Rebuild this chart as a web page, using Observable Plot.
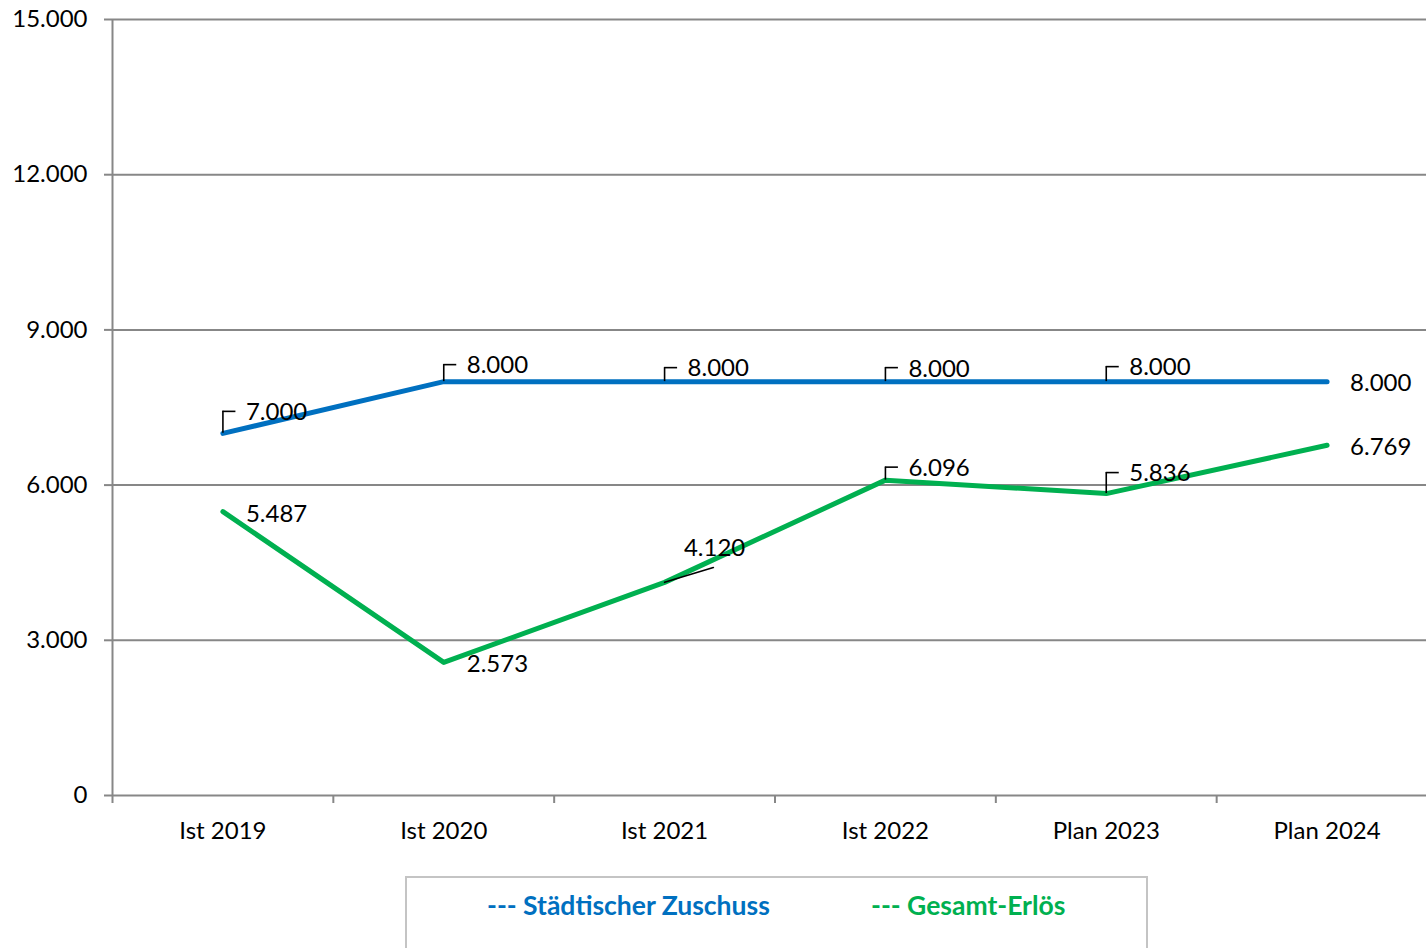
<!DOCTYPE html>
<html>
<head>
<meta charset="utf-8">
<script src="https://cdn.jsdelivr.net/npm/d3@7"></script>
<script src="https://cdn.jsdelivr.net/npm/@observablehq/plot@0.6"></script>
<style>
  html, body { margin: 0; padding: 0; background: #fff; overflow: hidden; }
  #wrap { position: relative; width: 1426px; height: 948px; overflow: hidden; background: #fff; }
  #chart svg { max-width: none !important; }
  #legend {
    position: absolute; left: 405px; top: 876px; width: 743px; height: 90px;
    border: 2px solid #c4c4c4; box-sizing: border-box; background: #fff;
    font-family: Lato, "Open Sans", sans-serif; font-weight: 700; font-size: 26.5px;
  }
  #legend span { position: absolute; top: 11px; white-space: nowrap; }
</style>
</head>
<body>
<div id="wrap">
  <div id="chart"></div>
  <div id="legend"></div>
</div>
<script>
// ---- data ----
const categories = ["Ist 2019", "Ist 2020", "Ist 2021", "Ist 2022", "Plan 2023", "Plan 2024"];
const seriesNames = ["--- Städtischer Zuschuss", "--- Gesamt-Erlös"];
const zuschuss = [7000, 8000, 8000, 8000, 8000, 8000];
const erloes = [5487, 2573, 4120, 6096, 5836, 6769];
const yTicks = [0, 3000, 6000, 9000, 12000, 15000];

// ---- layout / style (not data) ----
const colors = ["#0070C0", "#00B050"];
// label placement per point: kind, leader rise (px), text dy (px)
const zuschussLabels = [
  {kind: "leader", rise: 22, dy: -21},
  {kind: "leader", rise: 17, dy: -16},
  {kind: "leader", rise: 14, dy: -13},
  {kind: "leader", rise: 14, dy: -12},
  {kind: "leader", rise: 15, dy: -14},
  {kind: "right", dy: 2}
];
const erloesLabels = [
  {kind: "right", dy: 3},
  {kind: "right", dy: 2},
  {kind: "slant", dy: -34},
  {kind: "leader", rise: 13, dy: -12},
  {kind: "leader", rise: 21, dy: -20},
  {kind: "right", dy: 2}
];
const FS = 24;

const de = d3.formatLocale({decimal: ",", thousands: ".", grouping: [3], currency: ["", " €"]});
const fmt = de.format(",");

const rows = [];
[zuschuss, erloes].forEach((vals, s) => {
  vals.forEach((v, i) => rows.push({series: seriesNames[s], s, cat: categories[i], value: v, i}));
});

const W = 1437, ML = 112, MR = 0;
const halfStep = (W - ML - MR) / categories.length / 2;

const marks = [
  Plot.ruleY(yTicks, {y: d => d, stroke: "#878787", strokeWidth: 2}),
  Plot.ruleX([categories[0]], {x: d => d, y1: 0, y2: 15000, dx: -halfStep, stroke: "#878787", strokeWidth: 2}),
  Plot.ruleX(categories, {x: d => d, y1: 0, y2: 0, dx: -halfStep, insetBottom: -8, stroke: "#878787", strokeWidth: 2}),
  Plot.axisY({ticks: yTicks, tickSize: 8, tickPadding: 17, tickFormat: fmt, stroke: "#878787", strokeWidth: 2, fontSize: FS, label: null}),
  Plot.axisX({tickSize: 0, tickPadding: 26, fontSize: FS, label: null}),
  Plot.line(rows, {x: "cat", y: "value", z: "series", stroke: d => colors[d.s], strokeWidth: 5, strokeLinecap: "round", strokeLinejoin: "round"})
];

[[zuschussLabels, 0], [erloesLabels, 1]].forEach(([layout, s]) => {
  layout.forEach((L, i) => {
    const row = rows.find(r => r.s === s && r.i === i);
    const d = [row];
    if (L.kind === "leader") {
      marks.push(Plot.ruleX(d, {x: "cat", y1: "value", y2: "value", insetTop: -L.rise, stroke: "#000", strokeWidth: 1.6}));
      marks.push(Plot.ruleY(d, {x1: "cat", x2: "cat", y: "value", dy: -L.rise, insetRight: -13, stroke: "#000", strokeWidth: 1.6}));
      marks.push(Plot.text(d, {x: "cat", y: "value", text: r => fmt(r.value), dx: 23, dy: L.dy, textAnchor: "start", fontSize: FS, fill: "#000"}));
    } else if (L.kind === "slant") {
      marks.push(Plot.vector(d, {x: "cat", y: "value", length: 51, rotate: 73, anchor: "start", stroke: "#000", strokeWidth: 1.6,
        shape: {draw(context, l) { context.moveTo(0, 0); context.lineTo(0, -l); }}}));
      marks.push(Plot.text(d, {x: "cat", y: "value", text: r => fmt(r.value), dx: 50, dy: L.dy, textAnchor: "middle", fontSize: FS, fill: "#000"}));
    } else {
      marks.push(Plot.text(d, {x: "cat", y: "value", text: r => fmt(r.value), dx: 23, dy: L.dy, textAnchor: "start", fontSize: FS, fill: "#000"}));
    }
  });
});

const chart = Plot.plot({
  width: W,
  height: 860,
  marginTop: 19,
  marginBottom: 65,
  marginLeft: ML,
  marginRight: MR,
  style: {fontFamily: "Lato, 'Open Sans', sans-serif", fontSize: FS + "px", color: "#000", background: "#fff", overflow: "visible", maxWidth: "none"},
  x: {type: "point", domain: categories, padding: 0.5, round: false},
  y: {domain: [0, 15000]},
  marks
});
document.getElementById("chart").appendChild(chart);

const legend = document.getElementById("legend");
const lx = [80, 464];
seriesNames.forEach((name, s) => {
  const sp = document.createElement("span");
  sp.textContent = name;
  sp.style.left = lx[s] + "px";
  sp.style.color = colors[s];
  legend.appendChild(sp);
});
</script>
</body>
</html>
